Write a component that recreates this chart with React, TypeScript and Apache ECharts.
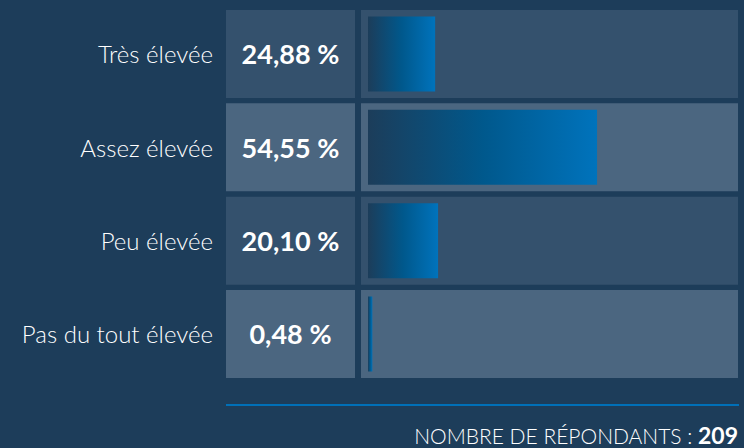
import React, { useEffect, useRef } from 'react';
import * as echarts from 'echarts';

const categories = ['Très élevée', 'Assez élevée', 'Peu élevée', 'Pas du tout élevée'];
const shares = [24.88, 54.55, 20.1, 0.48];
// bar lengths as drawn in the picture, in % of the bar track
const barLengths = [18.5, 63.1, 19.3, 1.2];
const respondents = 209;
const footerLabel = 'NOMBRE DE RÉPONDANTS : ';

const rowColors = ['#34516d', '#4b6680', '#34516d', '#4b6680'];
const FONT = 'Lato';

const fmt = (v: number) => v.toFixed(2).replace('.', ',') + '\u202f%';

export default function App() {
  const ref = useRef<HTMLDivElement>(null);
  useEffect(() => {
    if (!ref.current) return;
    const chart = echarts.init(ref.current, undefined, { renderer: 'svg' });
    const top = 7.33;
    const height = 373.33;
    const full = categories.map((_, i) => ({ value: 1, itemStyle: { color: rowColors[i] } }));
    chart.setOption({
      animation: false,
      backgroundColor: '#1d3d5a',
      grid: [
        { left: 226, width: 129, top, height },
        { left: 361, width: 377, top, height },
        { left: 368, width: 363, top, height },
      ],
      xAxis: [
        { gridIndex: 0, type: 'value', min: 0, max: 1, show: false },
        { gridIndex: 1, type: 'value', min: 0, max: 1, show: false },
        { gridIndex: 2, type: 'value', min: 0, max: 100, show: false },
      ],
      yAxis: [
        {
          gridIndex: 0,
          type: 'category',
          inverse: true,
          data: categories,
          axisLine: { show: false },
          axisTick: { show: false },
          axisLabel: {
            margin: 13,
            color: '#ffffff',
            fontFamily: FONT,
            fontWeight: 300,
            fontSize: 24,
          },
        },
        { gridIndex: 1, type: 'category', inverse: true, data: categories, show: false },
        { gridIndex: 2, type: 'category', inverse: true, data: categories, show: false },
      ],
      series: [
        {
          type: 'bar',
          xAxisIndex: 0,
          yAxisIndex: 0,
          barWidth: 88,
          data: full,
          silent: true,
          label: {
            show: true,
            position: 'inside',
            formatter: (p: any) => fmt(shares[p.dataIndex]),
            color: '#ffffff',
            fontFamily: FONT,
            fontWeight: 'bold',
            fontSize: 27,
          },
        },
        {
          type: 'bar',
          xAxisIndex: 1,
          yAxisIndex: 1,
          barWidth: 88,
          data: full,
          silent: true,
        },
        {
          type: 'bar',
          xAxisIndex: 2,
          yAxisIndex: 2,
          barWidth: 75,
          data: barLengths,
          itemStyle: {
            color: new echarts.graphic.LinearGradient(0, 0, 1, 0, [
              { offset: 0, color: '#1c3d5a' },
              { offset: 0.5, color: '#00588c' },
              { offset: 1, color: '#0073bc' },
            ]),
          },
        },
      ],
      graphic: [
        {
          type: 'line',
          shape: { x1: 226, y1: 405, x2: 739, y2: 405 },
          style: { stroke: '#0070b8', lineWidth: 2 },
        },
        {
          type: 'text',
          x: 738,
          y: 435,
          style: {
            text: '{a|' + footerLabel + '}{b|' + respondents + '}',
            align: 'right',
            verticalAlign: 'middle',
            rich: {
              a: { fill: '#ffffff', fontFamily: FONT, fontWeight: 300, fontSize: 21 },
              b: { fill: '#ffffff', fontFamily: FONT, fontWeight: 'bold', fontSize: 23 },
            },
          },
        },
      ],
    });
    return () => chart.dispose();
  }, []);
  return <div ref={ref} style={{ width: 744, height: 448, position: 'absolute', left: 0, top: 0 }} />;
}
